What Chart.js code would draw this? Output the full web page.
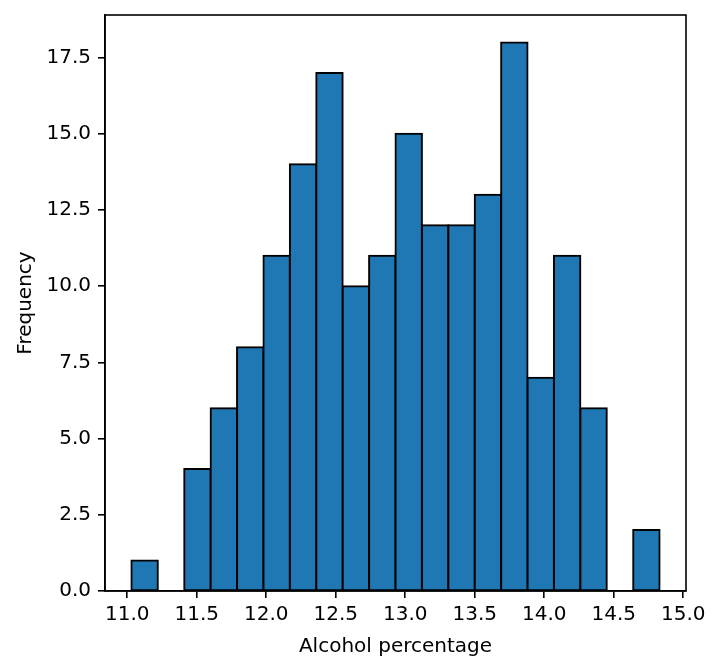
<!DOCTYPE html>
<html>
<head>
<meta charset="utf-8">
<script src="https://cdn.jsdelivr.net/npm/chart.js@4.4.1/dist/chart.umd.min.js"></script>
<style>
  html, body { margin: 0; padding: 0; background: #ffffff; }
  #wrap { width: 721px; height: 672px; }
</style>
</head>
<body>
<div id="wrap"><canvas id="c" width="721" height="672"></canvas></div>
<script>
// Histogram bin edges (alcohol %) and counts per bin
const binEdges = [11.03, 11.22, 11.41, 11.60, 11.79, 11.98, 12.17, 12.36, 12.55, 12.74, 12.93,
                  13.12, 13.31, 13.50, 13.69, 13.88, 14.07, 14.26, 14.45, 14.64, 14.83];
const counts = [1, 0, 4, 6, 8, 11, 14, 17, 10, 11, 15, 12, 12, 13, 18, 7, 11, 6, 0, 2];
const xTickValues = [11.0, 11.5, 12.0, 12.5, 13.0, 13.5, 14.0, 14.5, 15.0];
const yTickValues = [0, 2.5, 5.0, 7.5, 10.0, 12.5, 15.0, 17.5];
const xLabel = 'Alcohol percentage';
const yLabel = 'Frequency';

const points = counts.map((c, i) => ({ x: (binEdges[i] + binEdges[i + 1]) / 2, y: c }));

const FONT = { family: 'DejaVu Sans', size: 20 };

const framePlugin = {
  id: 'frame',
  afterDatasetsDraw(chart) {
    const { ctx, chartArea: a } = chart;
    ctx.save();
    ctx.strokeStyle = '#000';
    ctx.lineWidth = 1.6;
    ctx.strokeRect(a.left, a.top, a.right - a.left, a.bottom - a.top);
    ctx.restore();
  }
};

new Chart(document.getElementById('c'), {
  type: 'bar',
  data: {
    datasets: [{
      data: points,
      backgroundColor: '#1f77b4',
      borderColor: '#000000',
      borderWidth: 2,
      borderSkipped: false,
      inflateAmount: 1,
      barPercentage: 1.0,
      categoryPercentage: 1.0
    }]
  },
  options: {
    responsive: false,
    devicePixelRatio: 1,
    animation: false,
    layout: { padding: { top: 15, right: 35, left: 0, bottom: 0 } },
    plugins: { legend: { display: false }, tooltip: { enabled: false } },
    scales: {
      x: {
        type: 'linear',
        offset: false,
        min: 10.84,
        max: 15.02,
        afterFit(s) { s.height = 81; s.paddingLeft = 0; s.paddingRight = 0; },
        afterBuildTicks(s) { s.ticks = xTickValues.map(v => ({ value: v })); },
        ticks: {
          color: '#000',
          font: FONT,
          padding: 5,
          maxRotation: 0,
          autoSkip: false,
          callback: v => Number(v).toFixed(1)
        },
        grid: { display: true, offset: false, drawOnChartArea: false, drawTicks: true, tickLength: 7, color: '#000', lineWidth: 1.6 },
        border: { display: true, color: '#000', width: 1.6 },
        title: { display: true, text: xLabel, color: '#000', font: FONT, padding: { top: 0, bottom: 13 } }
      },
      y: {
        type: 'linear',
        min: 0,
        max: 18.9,
        afterFit(s) { s.width = 105; s.paddingTop = 0; s.paddingBottom = 0; },
        afterBuildTicks(s) { s.ticks = yTickValues.map(v => ({ value: v })); },
        ticks: {
          color: '#000',
          font: FONT,
          padding: 7,
          autoSkip: false,
          callback: v => Number(v).toFixed(1)
        },
        grid: { display: true, drawOnChartArea: false, drawTicks: true, tickLength: 7, color: '#000', lineWidth: 1.6 },
        border: { display: true, color: '#000', width: 1.6 },
        title: { display: true, text: yLabel, color: '#000', font: FONT, padding: { top: 14, bottom: 0 } }
      }
    }
  },
  plugins: [framePlugin]
});
</script>
</body>
</html>
